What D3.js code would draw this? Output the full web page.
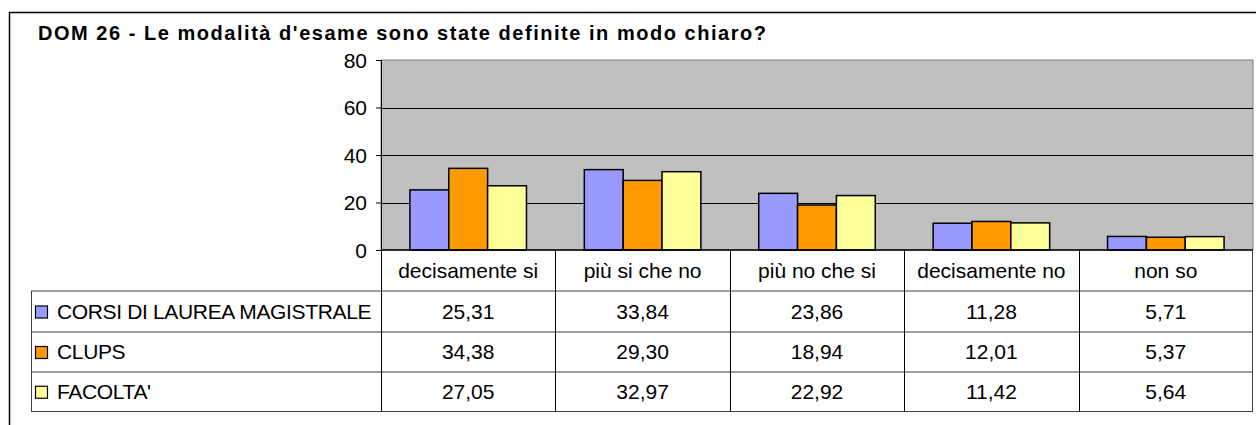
<!DOCTYPE html>
<html><head><meta charset="utf-8">
<script src="https://cdn.jsdelivr.net/npm/d3@7"></script>
<style>html,body{margin:0;padding:0;background:#fff;}svg{display:block;font-family:"Liberation Sans",Arial,sans-serif;}</style>
</head><body>
<svg id="c" width="1256" height="425"></svg>
<script>
const title = "DOM 26 - Le modalità d'esame sono state definite in modo chiaro?";
const categories = ["decisamente si","più si che no","più no che si","decisamente no","non so"];
const seriesNames = ["CORSI DI LAUREA MAGISTRALE","CLUPS","FACOLTA'"];
const seriesColors = ["#9999FF","#FF9900","#FFFF99"];
const corsiValues = [25.31,33.84,23.86,11.28,5.71];
const clupsValues = [34.38,29.30,18.94,12.01,5.37];
const facoltaValues = [27.05,32.97,22.92,11.42,5.64];
const yTicks = [0,20,40,60,80];
const series = [corsiValues, clupsValues, facoltaValues];

const svg = d3.select("#c");
const L = 381, R = 1253, T = 60, B = 250;
const tableLeft = 31;
const rowLines = [250, 291, 332, 372, 411.5];
const FS = 21;

svg.append("path").attr("d", "M9.5,430 V12.5 H1260").attr("fill","none").attr("stroke","#000").attr("stroke-width",1.5);

svg.append("text").attr("x",38).attr("y",40).attr("font-size",20).attr("font-weight","bold")
  .attr("textLength",728).attr("lengthAdjust","spacing").text(title);

const x = d3.scaleBand().domain(categories).range([L,R]);
const xs = d3.scaleBand().domain(seriesNames).range([0,x.bandwidth()]).paddingOuter(0.745).paddingInner(0);
const y = d3.scaleLinear().domain([0,80]).range([B,T]);

svg.append("rect").attr("x",L).attr("y",T).attr("width",R-L).attr("height",B-T).attr("fill","#C0C0C0").attr("stroke","#808080").attr("stroke-width",1);
svg.append("g").selectAll("line").data(yTicks.filter(d=>d>0&&d<80)).join("line")
  .attr("x1",L).attr("x2",R).attr("y1",d=>Math.round(y(d))+0.5).attr("y2",d=>Math.round(y(d))+0.5).attr("stroke","#000").attr("stroke-width",1);

categories.forEach((c,ci)=>{
  series.forEach((vals,si)=>{
    svg.append("rect").attr("x",x(c)+xs(seriesNames[si])).attr("y",y(vals[ci]))
      .attr("width",xs.bandwidth()).attr("height",y(0)-y(vals[ci]))
      .attr("fill",seriesColors[si]).attr("stroke","#000").attr("stroke-width",1.5);
  });
});

const yAxis = d3.axisLeft(y).tickValues(yTicks).tickSize(5).tickPadding(9).tickFormat(d3.format("d"));
const ya = svg.append("g").attr("transform",`translate(${L},0)`).call(yAxis);
ya.attr("font-size",FS).attr("font-family","Liberation Sans, Arial, sans-serif");
ya.select(".domain").attr("stroke","#000");
ya.selectAll("text").attr("fill","#000").attr("dy","0.35em");
ya.selectAll("line").attr("stroke","#000");

const tg = svg.append("g").attr("font-size",FS);
tg.append("line").attr("x1",L).attr("x2",R).attr("y1",B).attr("y2",B).attr("stroke","#000").attr("stroke-width",1.5);
rowLines.slice(1).forEach(yy=>{
  tg.append("line").attr("x1",tableLeft).attr("x2",R).attr("y1",yy).attr("y2",yy).attr("stroke","#404040").attr("stroke-width",1);
});
tg.append("line").attr("x1",tableLeft+0.5).attr("x2",tableLeft+0.5).attr("y1",rowLines[1]).attr("y2",rowLines[4]).attr("stroke","#404040");
categories.forEach(c=>{
  tg.append("line").attr("x1",Math.round(x(c))+0.5).attr("x2",Math.round(x(c))+0.5).attr("y1",B).attr("y2",rowLines[4]).attr("stroke","#000");
});
tg.append("line").attr("x1",R-0.5).attr("x2",R-0.5).attr("y1",B).attr("y2",rowLines[4]).attr("stroke","#404040");

tg.selectAll("text.cat").data(categories).join("text").attr("class","cat")
  .attr("x",d=>x(d)+x.bandwidth()/2).attr("y",(rowLines[0]+rowLines[1])/2).attr("dy","0.35em")
  .attr("text-anchor","middle").text(d=>d);

const fmt = v => v.toFixed(2).replace(".",",");
seriesNames.forEach((s,si)=>{
  const cy = (rowLines[si+1]+rowLines[si+2])/2;
  tg.append("rect").attr("x",35.5).attr("y",cy-5.5).attr("width",12).attr("height",12)
    .attr("fill",seriesColors[si]).attr("stroke","#000").attr("stroke-width",1.2);
  tg.append("text").attr("x",57).attr("y",cy).attr("dy","0.35em").attr("letter-spacing","-0.35").text(s);
  categories.forEach((c,ci)=>{
    tg.append("text").attr("x",x(c)+x.bandwidth()/2).attr("y",cy).attr("dy","0.35em")
      .attr("text-anchor","middle").text(fmt(series[si][ci]));
  });
});
</script>
</body></html>
